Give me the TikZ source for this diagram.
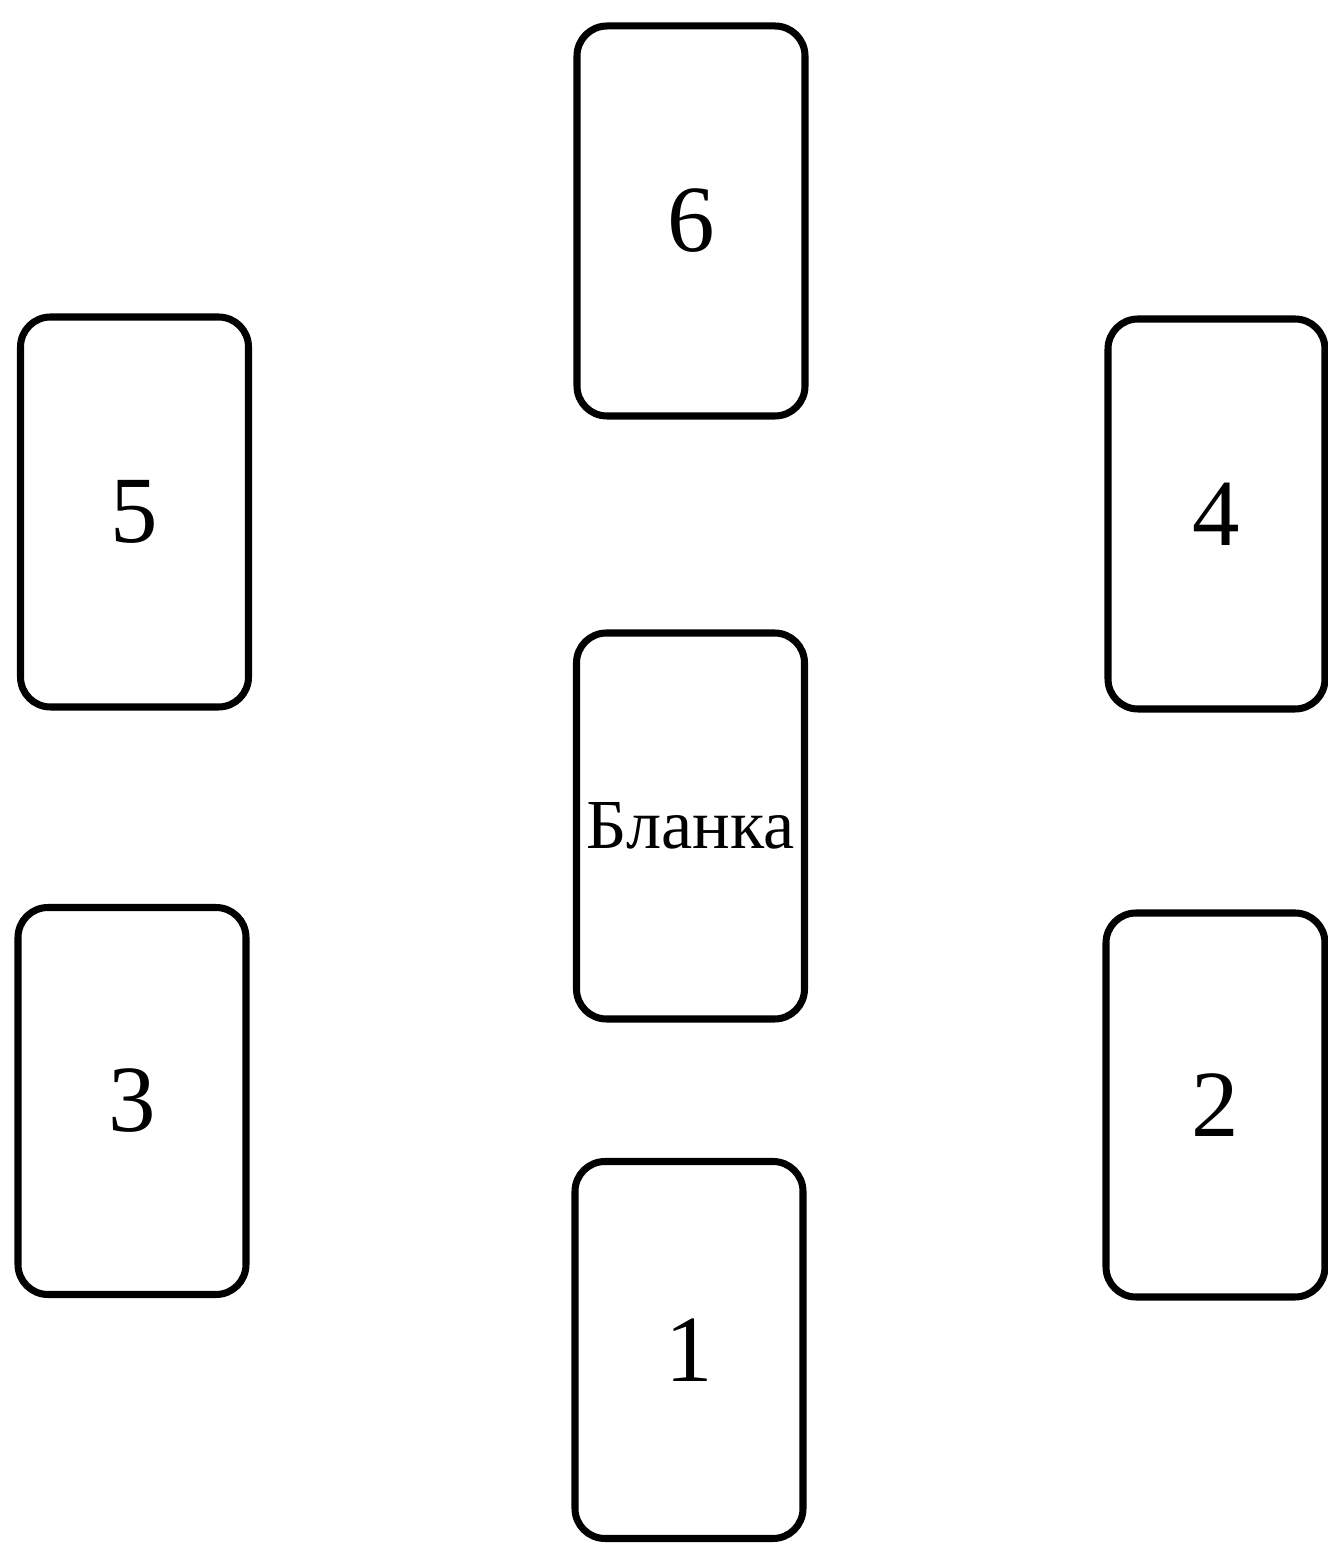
\documentclass[tikz,border=0pt]{standalone}
\usepackage{fontspec}
\setmainfont{Liberation Serif}
\tikzset{
  card/.style={draw, line width=2pt, rounded corners=0.3cm,
    minimum width=2.28cm, minimum height=3.9cm, inner sep=0pt,
    font=\fontsize{27}{30}\selectfont},
}
\begin{document}
\begin{tikzpicture}
    \useasboundingbox (0,0) rectangle (13.27,15.44);
        \node [card] (six) at (6.91,13.23) {6};
        \node [card] (five) at (1.345,10.32) {5};
        \node [card, minimum width=2.17cm] (four) at (12.165,10.30) {4};
        \node [card, minimum height=3.86cm, font=\fontsize{20}{22}\selectfont] (blank) at (6.905,7.18) {Бланка};
        \node [card, minimum height=3.87cm] (three) at (1.32,4.43) {3};
        \node [card, minimum width=2.19cm, minimum height=3.84cm] (two) at (12.155,4.39) {2};
        \node [card, minimum height=3.77cm] (one) at (6.89,1.94) {1};
  \end{tikzpicture}
\end{document}
